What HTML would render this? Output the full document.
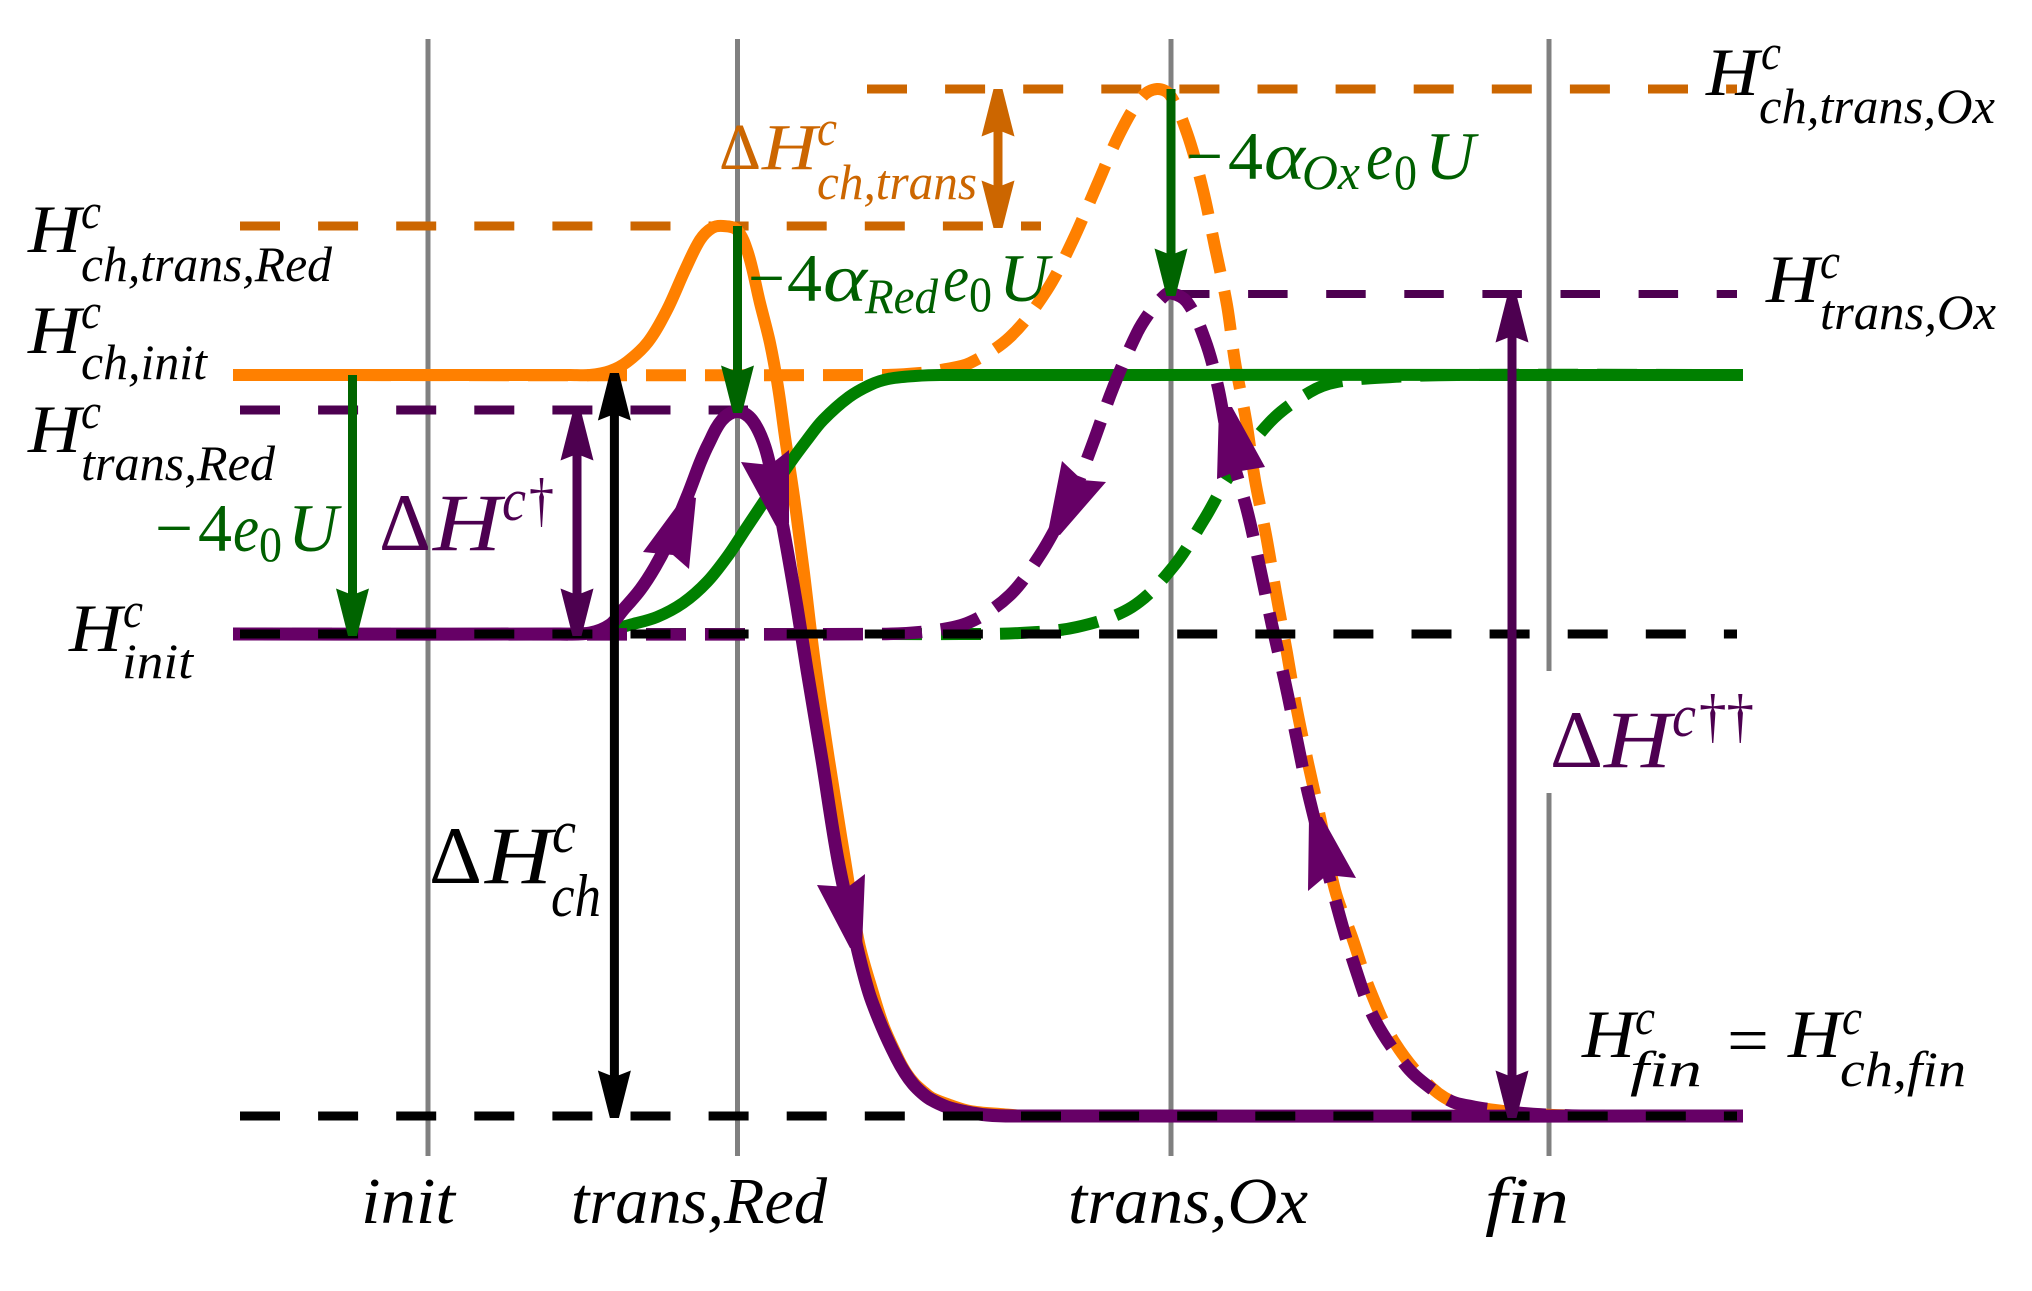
<!DOCTYPE html>
<html lang="en">
<head>
<meta charset="utf-8">
<title>Enthalpy reaction diagram</title>
<style>
html,body{margin:0;padding:0;background:#fff;}
svg{display:block;}
text{font-family:"Liberation Serif","DejaVu Serif",serif;font-style:italic;}
.up{font-style:normal;}
.k{fill:#000;}
.g{fill:#005f00;}
.p{fill:#4d0050;}
.o{fill:#cc6600;}
</style>
</head>
<body>
<svg id="chart" xmlns="http://www.w3.org/2000/svg" width="2032" height="1291" viewBox="0 0 2032 1291">
<rect x="0" y="0" width="2032" height="1291" fill="#fff"/>
<g id="marks"></g>
<g id="arrows"></g>

<g class="k">
<text x="28" y="252" font-size="68" textLength="53" lengthAdjust="spacingAndGlyphs">H</text>
<text x="81" y="228" font-size="50" textLength="20" lengthAdjust="spacingAndGlyphs">c</text>
<text x="81" y="281" font-size="50" textLength="251" lengthAdjust="spacingAndGlyphs">ch,trans,Red</text>
</g>
<g class="k">
<text x="28" y="353" font-size="68" textLength="53" lengthAdjust="spacingAndGlyphs">H</text>
<text x="81" y="328" font-size="50" textLength="20" lengthAdjust="spacingAndGlyphs">c</text>
<text x="81" y="379" font-size="50" textLength="126" lengthAdjust="spacingAndGlyphs">ch,init</text>
</g>
<g class="k">
<text x="28" y="452" font-size="68" textLength="53" lengthAdjust="spacingAndGlyphs">H</text>
<text x="81" y="428" font-size="50" textLength="20" lengthAdjust="spacingAndGlyphs">c</text>
<text x="81" y="480" font-size="50" textLength="194" lengthAdjust="spacingAndGlyphs">trans,Red</text>
</g>
<g class="k">
<text x="69" y="651" font-size="68" textLength="53" lengthAdjust="spacingAndGlyphs">H</text>
<text x="123" y="627" font-size="50" textLength="20" lengthAdjust="spacingAndGlyphs">c</text>
<text x="122" y="678" font-size="50" textLength="71" lengthAdjust="spacingAndGlyphs">init</text>
</g>
<g class="k">
<text x="1706" y="95" font-size="68" textLength="53" lengthAdjust="spacingAndGlyphs">H</text>
<text x="1761" y="69" font-size="50" textLength="20" lengthAdjust="spacingAndGlyphs">c</text>
<text x="1759" y="123" font-size="50" textLength="236" lengthAdjust="spacingAndGlyphs">ch,trans,Ox</text>
</g>
<g class="k">
<text x="1766" y="302" font-size="68" textLength="53" lengthAdjust="spacingAndGlyphs">H</text>
<text x="1820" y="278" font-size="50" textLength="20" lengthAdjust="spacingAndGlyphs">c</text>
<text x="1820" y="329" font-size="50" textLength="176" lengthAdjust="spacingAndGlyphs">trans,Ox</text>
</g>
<g class="k">
<text x="1582" y="1057" font-size="68" textLength="53" lengthAdjust="spacingAndGlyphs">H</text>
<text x="1635" y="1034" font-size="50" textLength="20" lengthAdjust="spacingAndGlyphs">c</text>
<text x="1630" y="1086" font-size="50" textLength="72" lengthAdjust="spacingAndGlyphs">fin</text>
<text class="up" x="1727" y="1063" font-size="68" textLength="42" lengthAdjust="spacingAndGlyphs">=</text>
<text x="1788" y="1057" font-size="68" textLength="53" lengthAdjust="spacingAndGlyphs">H</text>
<text x="1842" y="1034" font-size="50" textLength="20" lengthAdjust="spacingAndGlyphs">c</text>
<text x="1840" y="1086" font-size="50" textLength="126" lengthAdjust="spacingAndGlyphs">ch,fin</text>
</g>

<g class="g">
<text class="up" x="155" y="551" font-size="68" textLength="38" lengthAdjust="spacingAndGlyphs">−</text>
<text class="up" x="198" y="551" font-size="68" textLength="34" lengthAdjust="spacingAndGlyphs">4</text>
<text x="233" y="551" font-size="68" textLength="26" lengthAdjust="spacingAndGlyphs">e</text>
<text class="up" x="259" y="561" font-size="50" textLength="23" lengthAdjust="spacingAndGlyphs">0</text>
<text x="288" y="551" font-size="68" textLength="50" lengthAdjust="spacingAndGlyphs">U</text>
</g>
<g class="g">
<text class="up" x="748" y="301" font-size="68" textLength="37" lengthAdjust="spacingAndGlyphs">−</text>
<text class="up" x="787" y="301" font-size="68" textLength="35" lengthAdjust="spacingAndGlyphs">4</text>
<text x="823" y="301" font-size="68" textLength="44" lengthAdjust="spacingAndGlyphs">α</text>
<text x="865" y="313" font-size="50" textLength="73" lengthAdjust="spacingAndGlyphs">Red</text>
<text x="943" y="301" font-size="68" textLength="26" lengthAdjust="spacingAndGlyphs">e</text>
<text class="up" x="969" y="311" font-size="50" textLength="23" lengthAdjust="spacingAndGlyphs">0</text>
<text x="999" y="301" font-size="68" textLength="50" lengthAdjust="spacingAndGlyphs">U</text>
</g>
<g class="g">
<text class="up" x="1186" y="179" font-size="68" textLength="37" lengthAdjust="spacingAndGlyphs">−</text>
<text class="up" x="1228" y="179" font-size="68" textLength="35" lengthAdjust="spacingAndGlyphs">4</text>
<text x="1264" y="179" font-size="68" textLength="41" lengthAdjust="spacingAndGlyphs">α</text>
<text x="1302" y="189" font-size="50" textLength="58" lengthAdjust="spacingAndGlyphs">Ox</text>
<text x="1366" y="179" font-size="68" textLength="27" lengthAdjust="spacingAndGlyphs">e</text>
<text class="up" x="1394" y="189" font-size="50" textLength="23" lengthAdjust="spacingAndGlyphs">0</text>
<text x="1425" y="179" font-size="68" textLength="50" lengthAdjust="spacingAndGlyphs">U</text>
</g>

<g class="p">
<text class="up" x="379" y="550" font-size="82" textLength="52" lengthAdjust="spacingAndGlyphs">Δ</text>
<text x="433" y="550" font-size="82" textLength="68" lengthAdjust="spacingAndGlyphs">H</text>
<text x="502" y="520" font-size="60" textLength="24" lengthAdjust="spacingAndGlyphs">c</text>
<text class="up" x="529" y="520" font-size="60" textLength="25" lengthAdjust="spacingAndGlyphs">†</text>
</g>
<g class="p">
<text class="up" x="1550" y="767" font-size="82" textLength="53" lengthAdjust="spacingAndGlyphs">Δ</text>
<text x="1604" y="767" font-size="82" textLength="67" lengthAdjust="spacingAndGlyphs">H</text>
<text x="1672" y="736" font-size="60" textLength="24" lengthAdjust="spacingAndGlyphs">c</text>
<text class="up" x="1699" y="736" font-size="60" textLength="55" lengthAdjust="spacingAndGlyphs">††</text>
</g>
<g class="o">
<text class="up" x="719" y="169" font-size="66" textLength="42" lengthAdjust="spacingAndGlyphs">Δ</text>
<text x="762" y="169" font-size="66" textLength="55" lengthAdjust="spacingAndGlyphs">H</text>
<text x="817" y="145" font-size="50" textLength="20" lengthAdjust="spacingAndGlyphs">c</text>
<text x="817" y="199" font-size="50" textLength="160" lengthAdjust="spacingAndGlyphs">ch,trans</text>
</g>
<g class="k">
<text class="up" x="429" y="883" font-size="82" textLength="53" lengthAdjust="spacingAndGlyphs">Δ</text>
<text x="485" y="883" font-size="82" textLength="67" lengthAdjust="spacingAndGlyphs">H</text>
<text x="552" y="852" font-size="60" textLength="24" lengthAdjust="spacingAndGlyphs">c</text>
<text x="551" y="916" font-size="60" textLength="50" lengthAdjust="spacingAndGlyphs">ch</text>
</g>

<g class="k">
<text x="361" y="1223" font-size="66" textLength="94" lengthAdjust="spacingAndGlyphs">init</text>
<text x="571" y="1223" font-size="66" textLength="256" lengthAdjust="spacingAndGlyphs">trans,Red</text>
<text x="1068" y="1223" font-size="66" textLength="240" lengthAdjust="spacingAndGlyphs">trans,Ox</text>
<text x="1485" y="1223" font-size="66" textLength="84" lengthAdjust="spacingAndGlyphs">fin</text>
</g>
</svg>

<script>
// Reaction coordinate (x) and enthalpy (e) data.
const stageNames = ['init', 'trans-red', 'trans-ox', 'fin'];
const stageCoords = [19.5, 50.45, 93.8, 131.6];

const levelNames = ['ch-trans-ox', 'ch-trans-red', 'trans-ox', 'trans-red', 'init', 'fin'];
const levelEnergies = [205.4, 178, 164.4, 141.2, 96.4, 0];
const levelStarts = [63.4, 0.7, 93.7, 0.7, 0.7, 0.7];
const levelEnds = [150.4, 80.8, 150.4, 51.5, 150.4, 150.4];

const orangeSolidX = [0,33.7,35.7,37.7,39.4,41.5,43.4,45.2,46.7,47.9,49,50.4,51.5,52.7,53.7,54.5,55.2,56.1,57.1,58.15,59.6,61.2,62.6,64,65.1,66.6,67.4,68.2,69.1,69.9,71.7,73.7,76.7,79.7,151];
const orangeSolidE = [148.2,148.2,148.2,149,150.8,154.8,161.2,169.2,175.2,177.6,178,177.2,172.6,162.6,154.6,145.8,135.8,123.8,108.6,91.2,71.2,51.2,34.6,24.6,17.8,11.2,8.4,6.4,4.8,3.6,2.2,1,0.4,0,0];

const greenSolidX = [0,32.7,36.7,40,42.4,45,47.4,49.4,51.4,53.4,55.7,57.4,59,61.6,63.7,65.5,68.2,70.7,151];
const greenSolidE = [96.4,96.4,96.8,98.4,99.8,102.6,106.8,111.8,117.8,123.8,130.6,135.2,139.2,143.8,146.2,147.4,148,148.2,148.2];

const purpleSolidX = [0,32.7,35.7,37.7,39,40.7,42.2,43.4,45.4,46.7,47.5,48.9,50.45,51.9,53.2,54.2,55,56.4,57.4,58.9,60.5,62.3,63.6,64.9,66.4,67.2,68,68.9,69.7,71.4,73.4,75.4,78,151];
const purpleSolidE = [96.4,96.4,96.6,98.2,101.2,105.2,109.8,114.4,123.8,130.6,134.2,139.2,140.9,139.2,133.8,125.2,117.8,101.8,89.2,71.2,51.2,34.6,24.6,17.8,11.4,8.6,6.4,4.6,3.4,1.8,0.8,0.2,0,0];

const orangeDashedX = [0,64.7,68.7,71.3,73.7,77.7,81.4,84,86.4,88.7,90.9,92.4,93.7,95.4,97,98.2,99.4,100.2,101.3,102.2,103.3,104.3,105.4,106.3,107.5,108.7,110.2,111.9,113.7,116.2,119.9,122.7,125.4,130,136.7,151];
const orangeDashedE = [148.2,148.2,148.6,149.4,150.6,155.8,165.2,175.2,186.2,196.6,203.8,205.4,204.2,196.6,185.2,173.8,162.2,150.8,139.2,127.2,116.2,104.6,92.6,82.2,70.6,59.8,45.2,35.8,25.2,14.6,5.6,2.2,1.4,0.4,0,0];

const greenDashedX = [0,64.7,72.7,78.7,84.4,89.9,94,97.2,99.5,103.7,107.7,110.4,115.9,122.4,151];
const greenDashedE = [96.4,96.4,96.4,96.6,97.8,101.8,109.8,119.6,127.6,138.8,144.8,146.8,147.8,148.2,148.2];

const purpleDashedX = [0,64.7,69.7,73.7,77.7,80.7,82.7,84.2,86,88,90.4,91.7,93,93.7,95.4,97.2,98.5,99.7,101.4,102.7,103.9,105.2,106.4,107.6,110.5,112.2,114.2,117.4,120,122,123.7,125.4,130,136.7,151];
const purpleDashedE = [96.4,96.4,97,98.8,104.2,112.2,119.2,125.2,134.6,145.6,156.6,160.8,163.8,164.6,162.8,155.2,145.8,133.2,121.2,109.6,98.2,86.8,75.2,63.8,41.2,29.8,19.2,9.8,5.2,2.8,2,1.4,0.4,0,0];

const arrowNames = ['minus-4e0u-arrow', 'minus-4-alpha-red-arrow', 'minus-4-alpha-ox-arrow', 'delta-h-dagger-arrow', 'delta-h-ch-arrow', 'delta-h-ch-trans-arrow', 'delta-h-double-dagger-arrow'];
const arrowCoords = [11.95, 50.45, 93.8, 34.4, 38.14, 76.5, 127.9];
const arrowFrom = [148.2, 178, 205.4, 140.6, 148.6, 205.4, 164.2];
const arrowTo = [96, 140.6, 164, 96, -0.4, 177.6, -0.4];
const arrowBoth = [false, false, false, true, true, true, true];

// Curve-direction arrowheads: tip edge, corner, notch, corner, tip edge.
const headX = [[45.2,41,44,45.6,46.3],[54.3,50.8,53.7,55.6,55.6],[61.7,58.4,61.5,63.2,62.9],[81.5,82.9,84.9,87.3,82.7],[98.6,98.4,100.2,103.2,99.9],[107.6,107.5,109.4,112.3,108.9]];
const headE = [[124.2,112.8,112.2,109.4,123.6],[118,130.8,130.2,133.2,118.6],[33.6,46.2,45.8,48.4,33.6],[116.8,131,127.2,126.8,116.2],[141.8,127.4,128.8,129.8,141.8],[59.8,45,48.2,47.6,59.8]];

function xAxis(v) { return 233 + v * 10; }
function yAxis(e) { return 1116 - e * 5; }

const NS = 'http://www.w3.org/2000/svg';
const marks = document.getElementById('marks');
const arrows = document.getElementById('arrows');

function make(tag, parent, attrs) {
  const el = document.createElementNS(NS, tag);
  for (const k in attrs) el.setAttribute(k, attrs[k]);
  parent.appendChild(el);
  return el;
}

function curvePath(xs, es) {
  const p = xs.map(function (v, i) { return [xAxis(v), yAxis(es[i])]; });
  let d = 'M' + p[0][0] + ' ' + p[0][1];
  for (let i = 0; i < p.length - 1; i++) {
    const a = p[Math.max(i - 1, 0)], b = p[i], c = p[i + 1], f = p[Math.min(i + 2, p.length - 1)];
    const segLen = Math.hypot(c[0] - b[0], c[1] - b[1]);
    const l1 = Math.hypot(c[0] - a[0], c[1] - a[1]) || 1;
    const l2 = Math.hypot(f[0] - b[0], f[1] - b[1]) || 1;
    const k = segLen / 3;
    const c1x = b[0] + (c[0] - a[0]) / l1 * k, c1y = b[1] + (c[1] - a[1]) / l1 * k;
    const c2x = c[0] - (f[0] - b[0]) / l2 * k, c2y = c[1] - (f[1] - b[1]) / l2 * k;
    d += 'C' + c1x.toFixed(1) + ' ' + c1y.toFixed(1) + ' ' + c2x.toFixed(1) + ' ' + c2y.toFixed(1) + ' ' + c[0].toFixed(1) + ' ' + c[1].toFixed(1);
  }
  return d;
}

// Stage gridlines
stageCoords.forEach(function (v, i) {
  const x = xAxis(v);
  if (i === 3) {
    const top = make('line', marks, { x1: x, x2: x, y1: 39, y2: 671, stroke: '#808080', 'stroke-width': 5 });
    
    
    const low = make('line', marks, { x1: x, x2: x, y1: 793, y2: 1156, stroke: '#808080', 'stroke-width': 5 });
    
    
  } else {
    const ln = make('line', marks, { x1: x, x2: x, y1: 39, y2: 1156, stroke: '#808080', 'stroke-width': 5 });
    
    
  }
});

// Curves
function drawCurve(name, xs, es, color, width, dashed) {
  const attrs = { d: curvePath(xs, es), fill: 'none', stroke: color, 'stroke-width': width };
  if (dashed) attrs['stroke-dasharray'] = '40 19';
  const el = make('path', marks, attrs);
  
  
}

function drawLevel(i, color, width) {
  const el = make('line', marks, {
    x1: xAxis(levelStarts[i]), x2: xAxis(levelEnds[i]),
    y1: yAxis(levelEnergies[i]), y2: yAxis(levelEnergies[i]),
    stroke: color, 'stroke-width': width, 'stroke-dasharray': (i === 2 ? '39.5 38.6' : '40 38.1')
  });
  
  
}

drawLevel(0, '#cc6600', 9);
drawLevel(1, '#cc6600', 9);
drawLevel(2, '#4d0050', 8);
drawLevel(3, '#4d0050', 9);

drawCurve('orange-dashed-curve', orangeDashedX, orangeDashedE, '#ff8000', 12, true);
drawCurve('orange-solid-curve', orangeSolidX, orangeSolidE, '#ff8000', 12, false);
drawCurve('green-dashed-curve', greenDashedX, greenDashedE, '#008000', 12, true);
drawCurve('green-solid-curve', greenSolidX, greenSolidE, '#008000', 12, false);
drawCurve('purple-dashed-curve', purpleDashedX, purpleDashedE, '#660066', 12.5, true);
drawCurve('purple-solid-curve', purpleSolidX, purpleSolidE, '#660066', 13, false);

drawLevel(4, '#000', 9);
drawLevel(5, '#000', 9);

// Direction heads on curves
headX.forEach(function (xs, i) {
  const pts = xs.map(function (v, j) { return xAxis(v).toFixed(1) + ',' + yAxis(headE[i][j]).toFixed(1); }).join(' ');
  const el = make('polygon', arrows, { points: pts, fill: '#660066' });
  
  
});

// Straight measurement arrows
const arrowColors = ['#006400', '#006400', '#006400', '#4d0050', '#000', '#cc6600', '#4d0050'];
function kite(x, tipY, dir, color) {
  const rear = tipY - dir * 47.5, notch = tipY - dir * 41, half = 16.5, blunt = 4.5;
  const el = make('polygon', arrows, {
    points: (x - blunt) + ',' + tipY + ' ' + (x - half) + ',' + rear + ' ' + x + ',' + notch + ' ' + (x + half) + ',' + rear + ' ' + (x + blunt) + ',' + tipY,
    fill: color
  });
  
  
}
arrowCoords.forEach(function (v, i) {
  const x = xAxis(v), y1 = yAxis(arrowFrom[i]), y2 = yAxis(arrowTo[i]);
  const el = make('line', arrows, {
    x1: x, x2: x,
    y1: arrowBoth[i] ? y1 + 30 : y1,
    y2: y2 - 30,
    stroke: arrowColors[i], 'stroke-width': 9
  });
  
  
  kite(x, y2, 1, arrowColors[i]);
  if (arrowBoth[i]) kite(x, y1, -1, arrowColors[i]);
});
</script>
</body>
</html>
